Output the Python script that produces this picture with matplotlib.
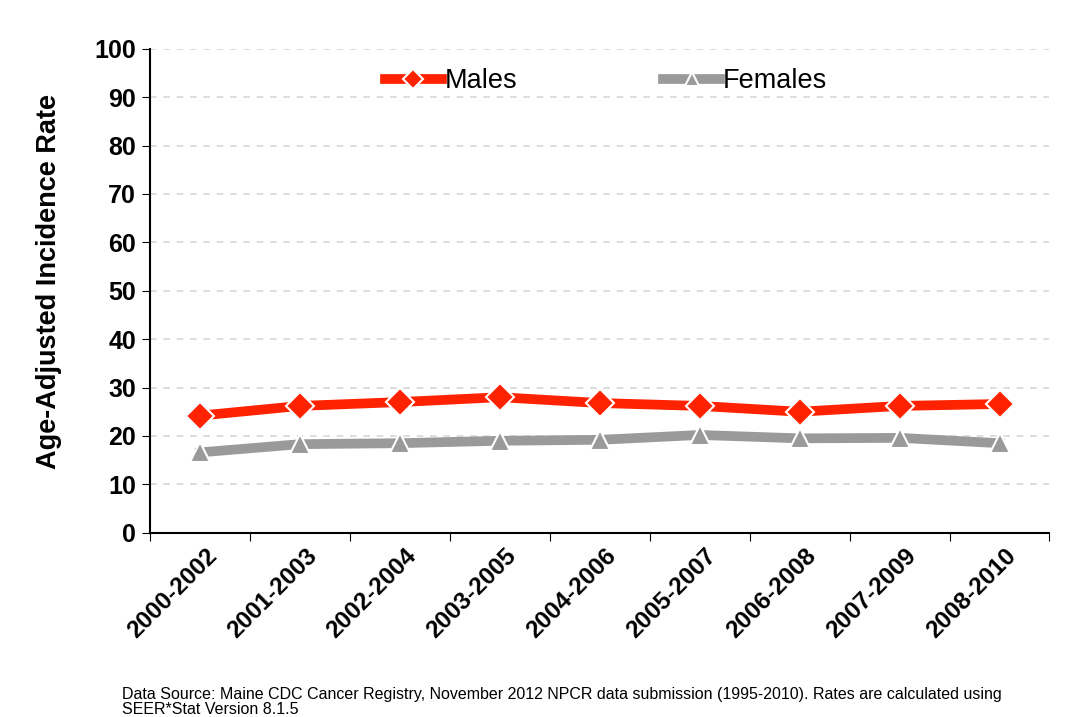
import matplotlib.pyplot as plt
import numpy as np

plt.rcParams['font.family'] = ['Liberation Sans', 'DejaVu Sans']

# datos del grafico
periods = ['2000-2002', '2001-2003', '2002-2004', '2003-2005', '2004-2006',
           '2005-2007', '2006-2008', '2007-2009', '2008-2010']
males = [24.2, 26.2, 27.0, 28.0, 26.8, 26.2, 25.0, 26.2, 26.6]
females = [16.6, 18.3, 18.5, 19.0, 19.2, 20.2, 19.5, 19.6, 18.5]
y_ticks = list(range(0, 101, 10))

RED = '#ff2200'
GRAY = '#9a9a9a'

fig = plt.figure(figsize=(10.72, 7.17), dpi=100)
ax = fig.add_axes([0.140, 0.257, 0.839, 0.675])

x = np.arange(len(periods))
ax.plot(x, males, color=RED, lw=7, marker='D', ms=14, mfc=RED, mec='white',
        mew=1.5, label='Males', zorder=3)
ax.plot(x, females, color=GRAY, lw=7, marker='^', ms=14, mfc=GRAY, mec='white',
        mew=1.5, label='Females', zorder=3)

ax.set_xlim(-0.5, len(periods) - 0.5)
ax.set_ylim(0, 100)
ax.set_yticks(y_ticks)
ax.set_yticklabels([str(v) for v in y_ticks], fontsize=18, fontweight='bold')

# ticks del eje x entre categorias, etiquetas en el centro
ax.set_xticks(np.arange(-0.5, len(periods) + 0.5, 1))
ax.set_xticklabels([])
ax.set_xticks(x + 0.05, minor=True)
ax.set_xticklabels(periods, minor=True, rotation=45, ha='right',
                   rotation_mode='anchor', fontsize=17.5, fontweight='bold')
ax.tick_params(axis='x', which='major', length=6, direction='out')
ax.tick_params(axis='x', which='minor', length=0, pad=8)
ax.tick_params(axis='y', length=6, direction='out', pad=4)

for v in y_ticks[1:]:
    ax.axhline(v, color='#d8d8d8', lw=1.2, ls=(0, (4, 4)), zorder=1)

ax.spines['top'].set_visible(False)
ax.spines['right'].set_visible(False)
ax.spines['left'].set_linewidth(1.5)
ax.spines['bottom'].set_linewidth(1.5)

ax.set_ylabel('Age-Adjusted Incidence Rate', fontsize=19.5, fontweight='bold')
ax.yaxis.set_label_coords(-0.098, 0.52)

ax.legend(loc='upper center', bbox_to_anchor=(0.507, 1.01), ncol=2, frameon=False,
          fontsize=19.5, handlelength=2.1, handletextpad=0.1, columnspacing=5.4,
          markerscale=0.7)

fig.text(0.114, 0.0,
         'Data Source: Maine CDC Cancer Registry, November 2012 NPCR data submission (1995-2010). Rates are calculated using\nSEER*Stat Version 8.1.5',
         fontsize=11.5, va='bottom', linespacing=1.0)

fig.savefig('out.png', dpi=100)
